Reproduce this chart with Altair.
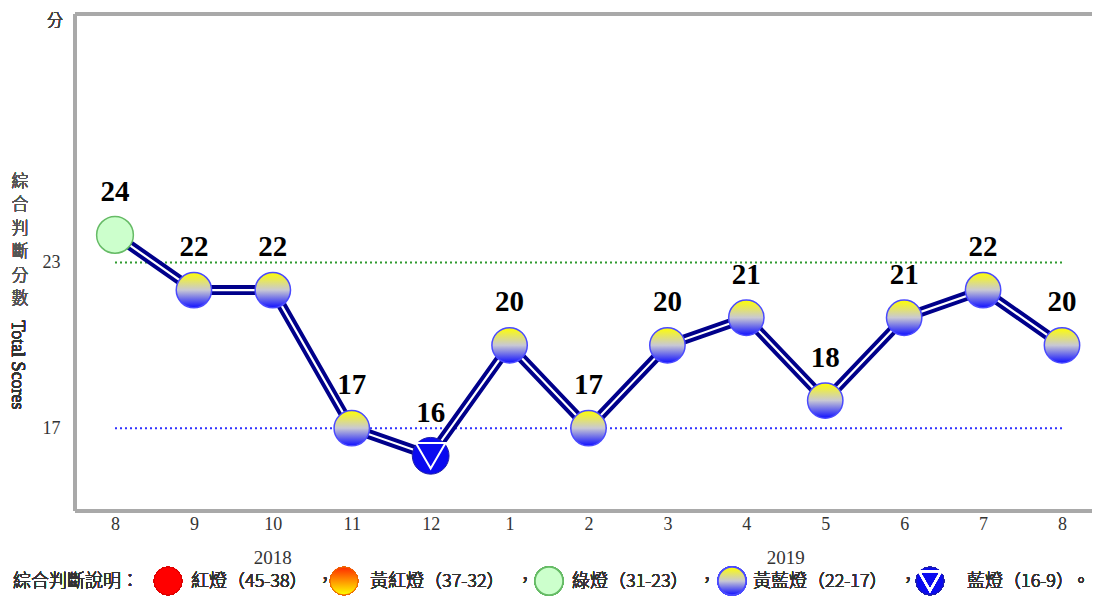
import json
import altair as alt
import pandas as pd

# ---------------- data ----------------
months = ["8", "9", "10", "11", "12", "1", "2", "3", "4", "5", "6", "7", "8"]
years = ["2018", "2018", "2018", "2018", "2018",
         "2019", "2019", "2019", "2019", "2019", "2019", "2019", "2019"]
scores = [24, 22, 22, 17, 16, 20, 17, 20, 21, 18, 21, 22, 20]
signals = ["green", "yb", "yb", "yb", "blue", "yb", "yb", "yb", "yb", "yb", "yb", "yb", "yb"]

ref_values = [23, 17]
ref_colors = ["#2f9a2f", "#3030ff"]

y_tick_values = [17, 23]
y_unit = "分"
y_title_cjk = ["綜", "合", "判", "斷", "分", "數"]
y_title_en = "Total Scores"

legend_head = "綜合判斷說明："
legend_labels = ["紅燈（45-38）", "黃紅燈（37-32）", "綠燈（31-23）", "黃藍燈（22-17）", "藍燈（16-9）"]

# ---------------- layout ----------------
W, H = 1017, 497
X_RANGE = [40, 987]
CJK = "Noto Sans CJK TC"

n = len(months)
df = pd.DataFrame({"month": months, "year": years, "score": scores,
                   "signal": signals, "idx": list(range(n))})
df_ref = pd.DataFrame({"value": ref_values, "color": ref_colors,
                       "x1": [0] * 2, "x2": [n - 1] * 2})
df_year = df.groupby("year", as_index=False)["idx"].mean()

xscale = alt.Scale(domain=[0, n - 1], range=X_RANGE, nice=False, zero=False)
yscale = alt.Scale(domain=[14, 32], nice=False, zero=False)

x_enc = alt.X("idx:Q", scale=xscale,
              axis=alt.Axis(title=None, values=list(range(n)),
                            labelExpr=f"{json.dumps(months)}[datum.value]",
                            ticks=False, domain=False, grid=False, labelAngle=0,
                            labelFont="Liberation Serif", labelFontSize=18,
                            labelFontWeight="normal", labelFlush=False,
                            labelOverlap=False,
                            labelColor="#333333", labelPadding=4))
y_enc = alt.Y("score:Q", scale=yscale,
              axis=alt.Axis(title=None, values=y_tick_values,
                            ticks=False, domain=False, grid=False,
                            labelFont="Liberation Serif", labelFontSize=18,
                            labelFontWeight="normal",
                            labelColor="#333333", labelPadding=15))

base = alt.Chart(df)

yb_grad = {"gradient": "linear", "x1": 0, "y1": 0, "x2": 0, "y2": 1,
           "stops": [{"offset": 0, "color": "#ffff00"},
                     {"offset": 0.5, "color": "#c8c8d4"},
                     {"offset": 1, "color": "#1010ff"}]}
or_grad = {"gradient": "linear", "x1": 0, "y1": 0, "x2": 0, "y2": 1,
           "stops": [{"offset": 0, "color": "#ff2a00"},
                     {"offset": 1, "color": "#ffff00"}]}

frame_color = "#a9a9a9"
frame = [
    alt.Chart(df).mark_rule(color=frame_color, strokeWidth=2.5).encode(
        x=alt.value(0), x2=alt.value(W), y=alt.value(0)),
    alt.Chart(df).mark_rule(color=frame_color, strokeWidth=2.5).encode(
        x=alt.value(0), x2=alt.value(W), y=alt.value(H)),
    alt.Chart(df).mark_rule(color=frame_color, strokeWidth=2.5).encode(
        x=alt.value(0), y=alt.value(0), y2=alt.value(H)),
]

refs = alt.Chart(df_ref).mark_rule(strokeDash=[2, 3], strokeWidth=2).encode(
    x=alt.X("x1:Q", scale=xscale),
    x2="x2:Q",
    y=alt.Y("value:Q", scale=yscale),
    color=alt.Color("color:N", scale=None),
)

line_outer = base.mark_line(color="#00008b", strokeWidth=10).encode(
    x=x_enc, y=y_enc, order="idx:Q")
line_inner = base.mark_line(color="#ffffff", strokeWidth=2.2).encode(
    x=x_enc, y=y_enc, order="idx:Q")

pts_yb = base.transform_filter("datum.signal == 'yb'").mark_circle(
    size=1250, opacity=1, fill=yb_grad, stroke="#4a4aff", strokeWidth=1.5
).encode(x=x_enc, y=y_enc)
pts_green = base.transform_filter("datum.signal == 'green'").mark_circle(
    size=1350, opacity=1, fill="#ccffcc", stroke="#66bb66", strokeWidth=1.5
).encode(x=x_enc, y=y_enc)
pts_blue = base.transform_filter("datum.signal == 'blue'").mark_circle(
    size=1350, opacity=1, fill="#0a0af0", stroke="#2020aa", strokeWidth=1
).encode(x=x_enc, y=y_enc)
tri_blue = base.transform_filter("datum.signal == 'blue'").mark_point(
    shape="triangle-down", filled=False, stroke="white", strokeWidth=2, size=880, opacity=1
).encode(x=x_enc, y=y_enc)

labels = base.mark_text(font="Liberation Serif", fontWeight="bold", fontSize=29,
                        dy=-34, baseline="alphabetic", color="#000000").encode(
    x=x_enc, y=y_enc, text="score:Q")

year_labels = alt.Chart(df_year).mark_text(
    font="Liberation Serif", fontSize=19, color="#333333", baseline="middle",
    fontWeight="normal"
).encode(
    x=alt.X("idx:Q", scale=xscale),
    y=alt.value(544),
    text="year:N",
)

unit_label = alt.Chart(df).mark_text(
    text=y_unit, font=CJK, fontSize=16, fontWeight=300, color="#444444",
    baseline="middle", align="center"
).encode(x=alt.value(-20), y=alt.value(7))

ytitle_cjk = alt.Chart(df).mark_text(
    text=y_title_cjk, font=CJK, fontSize=17, lineHeight=23.4, fontWeight=300,
    color="#555555", baseline="middle", align="center"
).encode(x=alt.value(-55), y=alt.value(168))
ytitle_en = alt.Chart(df).mark_text(
    text=y_title_en, font="Liberation Serif", fontSize=18, angle=90, fontWeight="normal",
    color="#333333", baseline="middle", align="center"
).encode(x=alt.value(-58), y=alt.value(351))

# legend
LY = 568
leg_font = dict(font=CJK, fontSize=18, fontWeight=300, color="#333333",
                baseline="middle", align="left")
legend_layers = [
    alt.Chart(df).mark_text(text=legend_head, **leg_font).encode(x=alt.value(-62), y=alt.value(LY))
]
label_x = [116, 295, 497, 678, 892]
for t, lx in zip(legend_labels, label_x):
    legend_layers.append(alt.Chart(df).mark_text(text=t, **leg_font).encode(
        x=alt.value(lx), y=alt.value(LY)))
for cx in [241, 441, 623, 824]:
    legend_layers.append(alt.Chart(df).mark_text(text="，", **leg_font).encode(
        x=alt.value(cx), y=alt.value(LY)))
legend_layers.append(alt.Chart(df).mark_text(text="。", **leg_font).encode(
    x=alt.value(997), y=alt.value(LY)))
sym_size = 780
SY = LY - 1
legend_layers += [
    alt.Chart(df).mark_point(shape="circle", filled=True, size=sym_size, opacity=1,
                             fill="#ff0000", stroke="#dd0000", strokeWidth=1).encode(
        x=alt.value(93), y=alt.value(SY)),
    alt.Chart(df).mark_point(shape="circle", filled=True, size=sym_size, opacity=1,
                             fill=or_grad, stroke="#ee6600", strokeWidth=1).encode(
        x=alt.value(269), y=alt.value(SY)),
    alt.Chart(df).mark_point(shape="circle", filled=True, size=sym_size, opacity=1,
                             fill="#ccffcc", stroke="#66bb66", strokeWidth=1.5).encode(
        x=alt.value(474), y=alt.value(SY)),
    alt.Chart(df).mark_point(shape="circle", filled=True, size=sym_size, opacity=1,
                             fill=yb_grad, stroke="#4a4aff", strokeWidth=1.5).encode(
        x=alt.value(657), y=alt.value(SY)),
    alt.Chart(df).mark_point(shape="circle", filled=True, size=sym_size, opacity=1,
                             fill="#0a0af0", stroke="#2020aa", strokeWidth=1).encode(
        x=alt.value(855), y=alt.value(SY)),
    alt.Chart(df).mark_point(shape="triangle-down", filled=False, size=500, opacity=1,
                             stroke="white", strokeWidth=2).encode(
        x=alt.value(855), y=alt.value(SY)),
]

chart = alt.layer(
    *frame, refs, line_outer, line_inner, pts_yb, pts_green, pts_blue, tri_blue,
    labels, year_labels, unit_label, ytitle_cjk, ytitle_en, *legend_layers
).properties(
    width=W, height=H,
    autosize=alt.AutoSizeParams(type="none"),
    padding={"left": 67, "top": 6, "right": 0, "bottom": 86},
    background="white",
).configure_view(stroke=None)

chart.save("out.html", embed_options={"renderer": "svg", "actions": False})
